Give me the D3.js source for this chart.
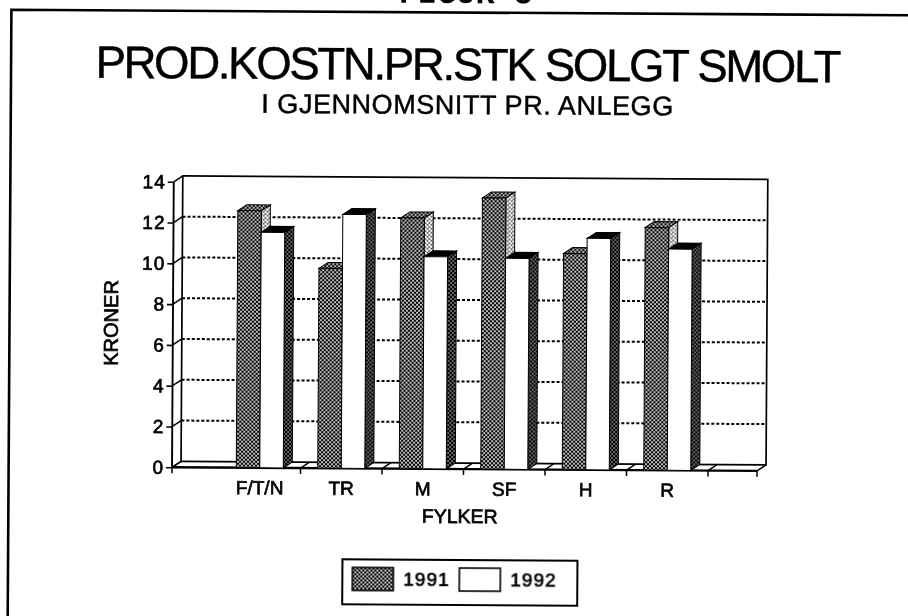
<!DOCTYPE html>
<html>
<head>
<meta charset="utf-8">
<script src="https://cdnjs.cloudflare.com/ajax/libs/d3/7.8.5/d3.min.js"></script>
<style>
  html, body { margin: 0; padding: 0; background: #fff; overflow: hidden; }
  svg { display: block; filter: blur(0.4px); }
  text { font-family: "Liberation Sans", Arial, sans-serif; fill: #000; }
  .lbl { stroke: #000; stroke-width: 0.7px; }
  .head { stroke: #000; stroke-width: 0.45px; }
</style>
</head>
<body>
<div id="chart"></div>
<script>
var categories = ["F/T/N", "TR", "M", "SF", "H", "R"];
var years = ["1991", "1992"];
var values1991 = [12.6, 9.8, 12.3, 13.3, 10.6, 11.9];
var values1992 = [11.55, 12.45, 10.4, 10.35, 11.35, 10.85];
var yTicks = [0, 2, 4, 6, 8, 10, 12, 14];

var width = 908, height = 616;
var axisLeft = 173, axisRight = 758, y0 = 469, y14 = 183.5;
var depthX = 9, depthY = 6;

var svg = d3.select("#chart").append("svg")
  .attr("width", width)
  .attr("height", height);

// dither fills, the scan is all black and white
var defs = svg.append("defs");
function dither(id, bg, r) {
  var p = defs.append("pattern")
    .attr("id", id)
    .attr("patternUnits", "userSpaceOnUse")
    .attr("width", 4)
    .attr("height", 4);
  p.append("rect").attr("width", 4).attr("height", 4).attr("fill", bg);
  [[1, 1], [3, 3]].forEach(function (d) {
    p.append("circle").attr("cx", d[0]).attr("cy", d[1]).attr("r", r).attr("fill", "#fff");
  });
}
dither("front91", "#000", 1);
dither("side91", "#444", 1.4);
dither("side92", "#000", 0.75);

// the page was scanned a little crooked
var page = svg.append("g").attr("transform", "rotate(0.35 454 308)");

var y = d3.scaleLinear().domain([0, 14]).range([y0, y14]);
var pad = 0.423;
var x = d3.scaleBand().domain(categories).range([220, 709]).paddingInner(pad).paddingOuter(pad / 2);
var xYear = d3.scaleBand().domain(years).range([0, x.bandwidth()]);

// page frame, only top and left are in the crop
page.append("path")
  .attr("d", "M9.6,640V12.5H930")
  .attr("fill", "none")
  .attr("stroke", "#000")
  .attr("stroke-width", 2.6);

page.append("text")
  .attr("x", 464).attr("y", 3)
  .attr("text-anchor", "middle")
  .style("font-family", "'Liberation Mono'")
  .style("font-weight", "bold")
  .style("font-size", "32px")
  .text("FIGUR 5");

page.append("text")
  .attr("class", "head")
  .attr("x", 467).attr("y", 80)
  .attr("text-anchor", "middle")
  .attr("textLength", 746)
  .style("font-size", "45.5px")
  .text("PROD.KOSTN.PR.STK SOLGT SMOLT");

page.append("text")
  .attr("class", "head")
  .attr("x", 466).attr("y", 114)
  .attr("text-anchor", "middle")
  .attr("textLength", 412)
  .style("font-size", "27px")
  .text("I GJENNOMSNITT PR. ANLEGG");

// back wall
var backLeft = axisLeft + depthX, backRight = axisRight + depthX;
page.append("rect")
  .attr("x", backLeft).attr("y", y(14) - depthY)
  .attr("width", backRight - backLeft)
  .attr("height", y(0) - y(14))
  .attr("fill", "none")
  .attr("stroke", "#000")
  .attr("stroke-width", 1.7);

page.append("g").selectAll("line")
  .data(yTicks.filter(function (d) { return d > 0 && d < 14; }))
  .enter().append("line")
  .attr("x1", backLeft).attr("x2", backRight)
  .attr("y1", function (d) { return y(d) - depthY; })
  .attr("y2", function (d) { return y(d) - depthY; })
  .attr("stroke", "#000")
  .attr("stroke-width", 2)
  .attr("stroke-dasharray", "3,2");

// floor and the slanted ticks, band edges plus the two ends
var edges = [axisLeft].concat(categories.slice(1).map(function (c) { return x(c) - x.step() * pad / 2; }));
edges.push(x(categories[5]) + x.bandwidth() + x.step() * pad / 2);
edges.push(axisRight);

var floor = page.append("g").attr("stroke", "#000").attr("fill", "none");
floor.selectAll("line.diag").data(edges).enter().append("line")
  .attr("class", "diag")
  .attr("x1", function (d) { return d; })
  .attr("y1", y(0))
  .attr("x2", function (d) { return d + depthX; })
  .attr("y2", y(0) - depthY)
  .attr("stroke-width", 1.5);
floor.selectAll("line.down").data(edges).enter().append("line")
  .attr("class", "down")
  .attr("x1", function (d) { return d; })
  .attr("y1", y(0))
  .attr("x2", function (d) { return d; })
  .attr("y2", y(0) + 6)
  .attr("stroke-width", 1.5);
floor.append("line")
  .attr("x1", axisLeft).attr("x2", axisRight)
  .attr("y1", y(0)).attr("y2", y(0))
  .attr("stroke-width", 2.4);
floor.append("line")
  .attr("x1", axisLeft).attr("x2", axisLeft)
  .attr("y1", y(14)).attr("y2", y(0))
  .attr("stroke-width", 1.9);

// 3d bars, 1991 first so that 1992 sits in front of its side
var bw = xYear.bandwidth();
function drawBars(vals, year, frontFill, topFill, sideFill) {
  var g = page.append("g").attr("stroke", "#000").attr("stroke-width", 1);
  function left(d, i) { return x(categories[i]) + xYear(year); }
  var bar = g.selectAll("g").data(vals).enter().append("g");
  bar.append("path")
    .attr("fill", topFill)
    .attr("d", function (d, i) {
      return "M" + left(d, i) + "," + y(d) + "l" + depthX + "," + (-depthY) + "h" + bw + "l" + (-depthX) + "," + depthY + "Z";
    });
  bar.append("path")
    .attr("fill", sideFill)
    .attr("d", function (d, i) {
      return "M" + (left(d, i) + bw) + "," + y(d) + "l" + depthX + "," + (-depthY) + "V" + (y(0) - depthY) + "l" + (-depthX) + "," + depthY + "Z";
    });
  bar.append("rect")
    .attr("x", left)
    .attr("y", function (d) { return y(d); })
    .attr("width", bw)
    .attr("height", function (d) { return y(0) - y(d); })
    .attr("fill", frontFill);
}
drawBars(values1991, "1991", "url(#front91)", "url(#front91)", "url(#side91)");
drawBars(values1992, "1992", "#fff", "#000", "url(#side92)");

// y axis with its little slanted ticks
var yAxis = d3.axisLeft(y).tickValues(yTicks).tickSize(6).tickPadding(2).tickFormat(d3.format("d"));
var yG = page.append("g").attr("transform", "translate(" + axisLeft + ",0)").call(yAxis);
yG.select(".domain").remove();
yG.selectAll("line").attr("stroke", "#000").attr("stroke-width", 1.6);
yG.selectAll("text").attr("class", "lbl").style("font-size", "19px").style("letter-spacing", "1px");
page.append("g").selectAll("line")
  .data(yTicks).enter().append("line")
  .attr("x1", axisLeft).attr("x2", backLeft)
  .attr("y1", function (d) { return y(d); })
  .attr("y2", function (d) { return y(d) - depthY; })
  .attr("stroke", "#000").attr("stroke-width", 1.5);

var xAxis = d3.axisBottom(x).tickSize(0).tickPadding(13);
var xG = page.append("g").attr("transform", "translate(0," + y(0) + ")").call(xAxis);
xG.select(".domain").remove();
xG.selectAll("text").attr("class", "lbl").style("font-size", "19px");

page.append("text")
  .attr("class", "lbl")
  .attr("x", 461).attr("y", 523)
  .attr("text-anchor", "middle")
  .style("font-size", "19.5px")
  .text("FYLKER");

page.append("text")
  .attr("class", "lbl")
  .attr("transform", "translate(118,325) rotate(-90)")
  .attr("text-anchor", "middle")
  .style("font-size", "20px")
  .text("KRONER");

// legend
var legend = page.append("g");
legend.append("rect")
  .attr("x", 344).attr("y", 560).attr("width", 235).attr("height", 45)
  .attr("fill", "#fff").attr("stroke", "#000").attr("stroke-width", 2);
var legendX = d3.scaleOrdinal().domain(years).range([354, 461]);
var legendFill = d3.scaleOrdinal().domain(years).range(["url(#front91)", "#fff"]);
legend.selectAll("rect.sw").data(years).enter().append("rect")
  .attr("class", "sw")
  .attr("x", function (d) { return legendX(d); })
  .attr("y", 568).attr("width", 41).attr("height", 23)
  .attr("fill", function (d) { return legendFill(d); })
  .attr("stroke", "#000").attr("stroke-width", 1.6);
legend.selectAll("text").data(years).enter().append("text")
  .attr("class", "lbl")
  .attr("x", function (d) { return legendX(d) + 51; })
  .attr("y", 586)
  .style("font-size", "19px")
  .style("letter-spacing", "1px")
  .text(function (d) { return d; });
</script>
</body>
</html>
